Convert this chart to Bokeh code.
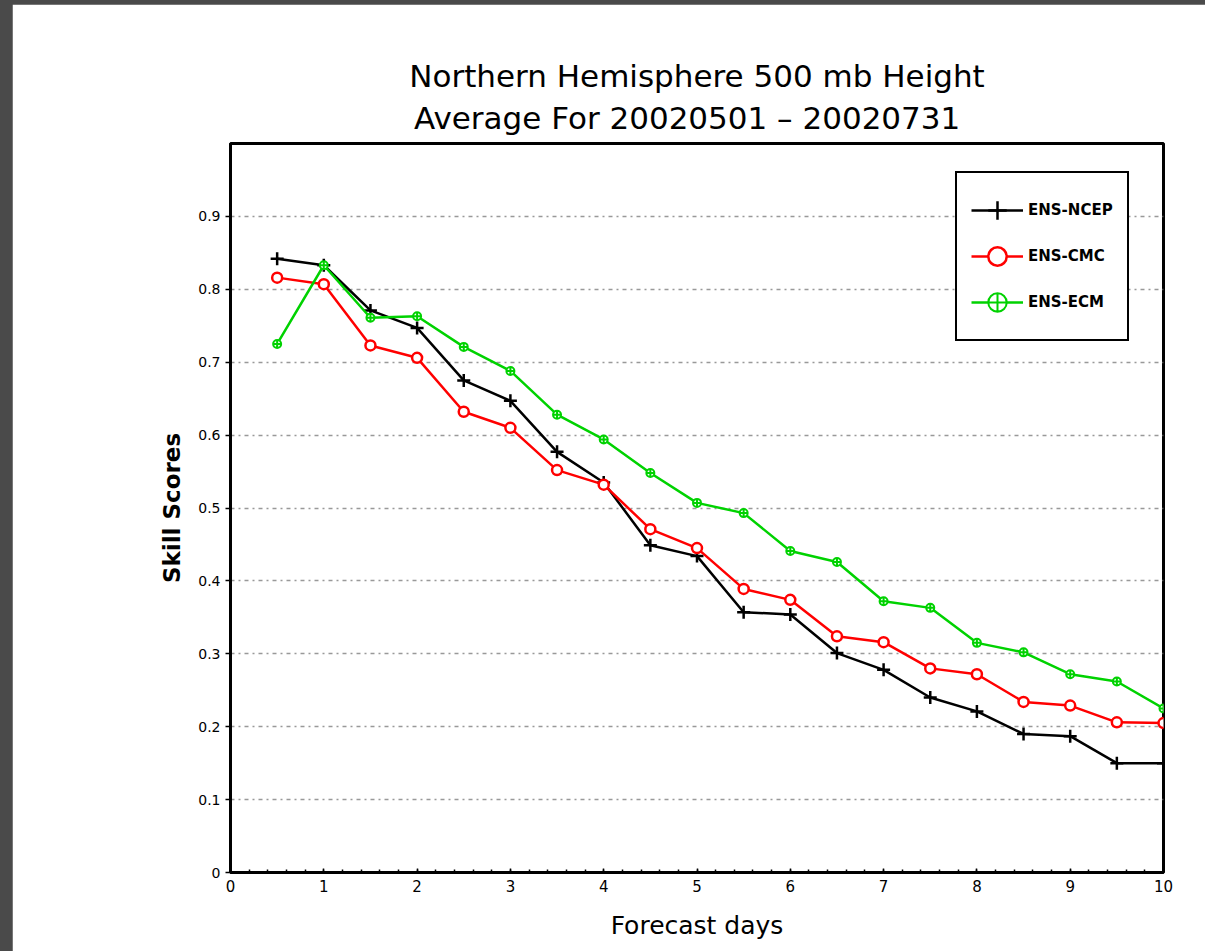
from bokeh.plotting import figure
from bokeh.models import Range1d, FixedTicker, Legend, LegendItem, Title
from bokeh.layouts import column
from bokeh.embed import file_html
from bokeh.resources import INLINE

days = [0.5, 1.0, 1.5, 2.0, 2.5, 3.0, 3.5, 4.0, 4.5, 5.0,
        5.5, 6.0, 6.5, 7.0, 7.5, 8.0, 8.5, 9.0, 9.5, 10.0]
ens_ncep = [0.842, 0.833, 0.771, 0.747, 0.675, 0.647, 0.577, 0.535, 0.449, 0.434,
            0.357, 0.354, 0.301, 0.278, 0.240, 0.221, 0.190, 0.187, 0.150, 0.150]
ens_cmc = [0.816, 0.807, 0.723, 0.706, 0.632, 0.610, 0.552, 0.532, 0.471, 0.445,
           0.389, 0.374, 0.324, 0.316, 0.280, 0.272, 0.234, 0.229, 0.206, 0.205]
ens_ecm = [0.725, 0.833, 0.761, 0.763, 0.721, 0.688, 0.628, 0.594, 0.548, 0.507,
           0.493, 0.441, 0.426, 0.372, 0.363, 0.315, 0.302, 0.272, 0.262, 0.225]

x_ticks = [0, 1, 2, 3, 4, 5, 6, 7, 8, 9, 10]
x_tick_labels = ["0", "1", "2", "3", "4", "5", "6", "7", "8", "9", "10"]
y_ticks = [0, 0.1, 0.2, 0.3, 0.4, 0.5, 0.6, 0.7, 0.8, 0.9]
y_tick_labels = ["0", "0.1", "0.2", "0.3", "0.4", "0.5", "0.6", "0.7", "0.8", "0.9"]

title_line1 = "Northern Hemisphere 500 mb Height"
title_line2 = "Average For 20020501  \u2013  20020731"

FONT = "DejaVu Sans"

p = figure(width=1193, height=947, output_backend="svg", toolbar_location=None,
           x_range=Range1d(0, 10), y_range=Range1d(0, 1.0),
           frame_width=933, frame_height=729,
           min_border_left=218, min_border_right=42,
           min_border_top=139, min_border_bottom=79)
p.background_fill_color = "white"
p.border_fill_color = "white"
p.outline_line_color = "black"
p.outline_line_width = 3

t2 = Title(text=title_line2, align="center", text_font=FONT, text_font_size="31px",
           text_font_style="normal", text_color="black", standoff=15)
t1 = Title(text=title_line1, align="center", text_font=FONT, text_font_size="31px",
           text_font_style="normal", text_color="black", standoff=-7)
p.add_layout(t2, "above")
p.add_layout(t1, "above")

# grid
p.xgrid.visible = False
p.ygrid.ticker = FixedTicker(ticks=y_ticks[1:])
p.ygrid.grid_line_color = "#999999"
p.ygrid.grid_line_width = 1.5
p.ygrid.grid_line_dash = "4 4 2 4"

# axes
p.xaxis.ticker = FixedTicker(ticks=x_ticks, minor_ticks=[i / 5 for i in range(1, 50)])
p.xaxis.major_label_overrides = {t: l for t, l in zip(x_ticks, x_tick_labels)}
p.yaxis.ticker = FixedTicker(ticks=y_ticks)
p.yaxis.major_label_overrides = {t: l for t, l in zip(y_ticks, y_tick_labels)}

for ax in (p.xaxis[0], p.yaxis[0]):
    ax.axis_line_color = "black"
    ax.axis_line_width = 3
    ax.major_tick_line_color = "black"
    ax.major_tick_line_width = 1.5
    ax.minor_tick_line_color = "black"
    ax.minor_tick_line_width = 1.5
    ax.major_label_text_font = FONT
    ax.major_label_text_color = "black"
    ax.axis_label_text_font = FONT
    ax.axis_label_text_color = "black"
    ax.axis_label_text_font_style = "normal"

p.xaxis.major_tick_in = 4
p.xaxis.major_tick_out = 0
p.xaxis.minor_tick_in = 3
p.xaxis.minor_tick_out = 0
p.xaxis.major_label_text_font_size = "15px"
p.xaxis.major_label_standoff = 7
p.xaxis.axis_label = "Forecast days"
p.xaxis.axis_label_text_font_size = "25px"
p.xaxis.axis_label_standoff = 16

p.yaxis.major_tick_in = 0
p.yaxis.major_tick_out = 5
p.yaxis.minor_tick_in = 0
p.yaxis.minor_tick_out = 0
p.yaxis.major_label_text_font_size = "14px"
p.yaxis.major_label_standoff = 5
p.yaxis.axis_label = "Skill Scores"
p.yaxis.axis_label_text_font_size = "23px"
p.yaxis.axis_label_text_font_style = "bold"
p.yaxis.axis_label_standoff = 10

# series
l1 = p.line(days, ens_ncep, line_color="black", line_width=2.5)
m1 = p.scatter(days, ens_ncep, marker="cross", size=13, line_color="black", line_width=2.5)
l2 = p.line(days, ens_cmc, line_color="#ff0000", line_width=2.5)
m2 = p.scatter(days, ens_cmc, marker="circle", size=10, line_color="#ff0000",
               fill_color="white", line_width=2.5)
l3 = p.line(days, ens_ecm, line_color="#00d200", line_width=2.5)
m3 = p.scatter(days, ens_ecm, marker="circle_cross", size=8, line_color="#00d200",
               fill_color="white", line_width=2)

legend = Legend(items=[
    LegendItem(label="ENS-NCEP", renderers=[l1, m1]),
    LegendItem(label="ENS-CMC", renderers=[l2, m2]),
    LegendItem(label="ENS-ECM", renderers=[l3, m3]),
], location=(725, 531))
legend.border_line_color = "black"
legend.border_line_alpha = 1.0
legend.border_line_width = 2
legend.background_fill_color = "white"
legend.background_fill_alpha = 1
legend.padding = 14
legend.margin = 0
legend.spacing = 0
legend.glyph_width = 52
legend.glyph_height = 46
legend.label_height = 46
legend.label_standoff = 5
legend.label_text_font = FONT
legend.label_text_font_size = "15px"
legend.label_text_font_style = "bold"
legend.label_text_color = "black"
p.add_layout(legend)

layout = column(p, styles={"background-color": "#4a4a4a", "padding": "4px 0px 0px 12px"})

open("out.html", "w").write(file_html(layout, INLINE))
